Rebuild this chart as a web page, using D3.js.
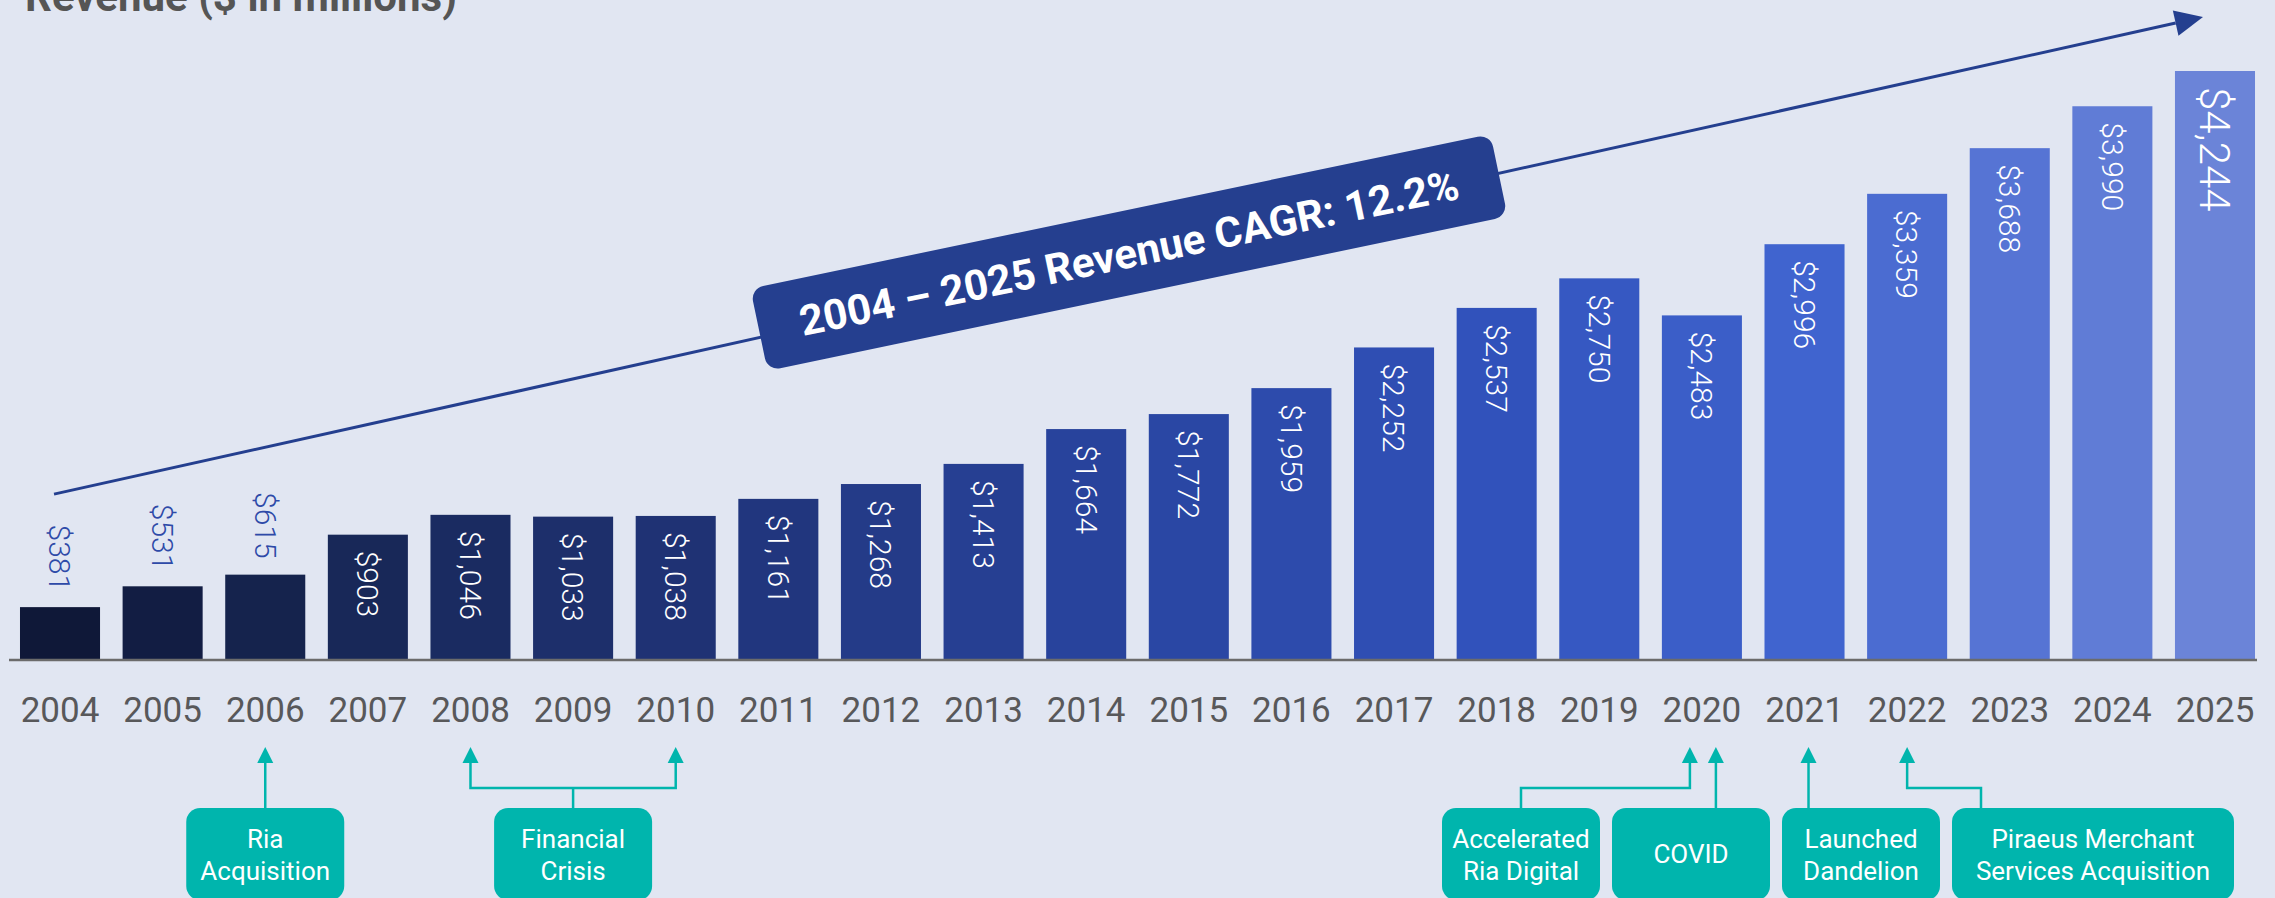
<!DOCTYPE html>
<html>
<head>
<meta charset="utf-8">
<script src="https://cdn.jsdelivr.net/npm/d3@7"></script>
<style>
  html, body { margin: 0; padding: 0; background: #e1e6f2; }
  svg { display: block; }
  text { font-family: Roboto, "Noto Sans", sans-serif; }
</style>
</head>
<body>
<svg id="chart" width="2275" height="898"></svg>
<script>
// ---- data -------------------------------------------------------------
const years = ["2004", "2005", "2006", "2007", "2008", "2009", "2010", "2011",
  "2012", "2013", "2014", "2015", "2016", "2017", "2018", "2019", "2020",
  "2021", "2022", "2023", "2024", "2025"];
const revenue = [381, 531, 615, 903, 1046, 1033, 1038, 1161, 1268, 1413, 1664,
  1772, 1959, 2252, 2537, 2750, 2483, 2996, 3359, 3688, 3990, 4244];
const titleText = "Revenue ($ in millions)";
const cagrText = "2004 – 2025 Revenue CAGR: 12.2%";
const eventLabels = [["Ria", "Acquisition"], ["Financial", "Crisis"],
  ["Accelerated", "Ria Digital"], ["COVID"], ["Launched", "Dandelion"],
  ["Piraeus Merchant", "Services Acquisition"]];
const eventYears = [["2006"], ["2008", "2010"], ["2020"], ["2020"], ["2021"], ["2022"]];

// ---- layout -----------------------------------------------------------
const W = 2275, H = 898;
const baseY = 660;
const svg = d3.select("#chart");

const x = d3.scaleBand().domain(years).range([8.7, 2266.3])
  .paddingInner(0.22).paddingOuter(0.11);
const y = d3.scaleLinear().domain([0, 4244]).range([baseY, 71]);
const bw = x.bandwidth();
const cx = d => x(d) + bw / 2;

// dark navy to periwinkle across the years
const barColor = d3.scaleLinear()
  .domain([0, 3, 6, 10, 14, 17, 21])
  .range(["#0f1838", "#182858", "#1f3274", "#28439c", "#3152bb", "#4064cf", "#6b84d8"]);

svg.append("rect").attr("width", W).attr("height", H).attr("fill", "#e1e6f2");

// title (sits partly above the top edge)
svg.append("text").attr("x", 25).attr("y", 11)
  .attr("font-size", 42).attr("font-weight", 700).attr("fill", "#555555")
  .text(titleText);

// bars
const rows = years.map((yr, i) => ({ yr, v: revenue[i], i }));
svg.append("g").selectAll("rect").data(rows).join("rect")
  .attr("x", d => x(d.yr)).attr("width", bw)
  .attr("y", d => y(d.v)).attr("height", d => baseY - y(d.v))
  .attr("fill", d => barColor(d.i));

// value labels, rotated to read downward
const fmt = v => "$" + d3.format(",")(v);
const insideMin = 800;
svg.append("g").selectAll("text").data(rows).join("text")
  .attr("transform", d => {
    const inside = d.v >= insideMin;
    const ty = inside ? y(d.v) + 16 : y(d.v) - 16;
    return `translate(${cx(d.yr)},${ty}) rotate(90)`;
  })
  .attr("text-anchor", d => d.v >= insideMin ? "start" : "end")
  .attr("dy", "0.355em")
  .attr("font-size", (d, i) => i === rows.length - 1 ? 42 : 30)
  .attr("font-weight", 300)
  .attr("fill", d => d.v >= insideMin ? "#ffffff" : "#2e4aa8")
  .text(d => fmt(d.v));

// x axis
const axis = svg.append("g").attr("transform", `translate(0,${baseY})`)
  .call(d3.axisBottom(x).tickSize(0).tickPadding(0));
axis.select(".domain").attr("stroke", "#6b6b6b").attr("stroke-width", 2.5)
  .attr("d", "M9,0H2257");
axis.selectAll(".tick text")
  .attr("y", 62).attr("dy", 0)
  .attr("font-family", "Roboto, sans-serif")
  .attr("font-size", 35).attr("fill", "#58585a");

// CAGR trend arrow
const t0 = [cx(years[0]) - 6, y(1195)];
const t1 = [cx(years[years.length - 1]) - 12, y(4633)];
const ang = Math.atan2(t1[1] - t0[1], t1[0] - t0[0]);
const headLen = 28, headHalf = 13;
const base = [t1[0] - headLen * Math.cos(ang), t1[1] - headLen * Math.sin(ang)];
const navy = "#243f8f";
svg.append("line")
  .attr("x1", t0[0]).attr("y1", t0[1]).attr("x2", base[0]).attr("y2", base[1])
  .attr("stroke", navy).attr("stroke-width", 3);
svg.append("polygon")
  .attr("points", [
    t1,
    [base[0] + headHalf * Math.sin(ang), base[1] - headHalf * Math.cos(ang)],
    [base[0] - headHalf * Math.sin(ang), base[1] + headHalf * Math.cos(ang)]
  ].map(p => p.join(",")).join(" "))
  .attr("fill", navy);

// CAGR badge riding on the trend line
const bx = 1129;
const by = t0[1] + (bx - t0[0]) * Math.tan(ang) - 3;
const badge = svg.append("g")
  .attr("transform", `translate(${bx},${by}) rotate(-11.8)`);
badge.append("rect")
  .attr("x", -378).attr("y", -42).attr("width", 756).attr("height", 84)
  .attr("rx", 13).attr("fill", "#253f8f");
badge.append("text")
  .attr("text-anchor", "middle").attr("dy", "0.36em")
  .attr("font-size", 42).attr("font-weight", 700).attr("fill", "#ffffff")
  .text(cagrText);

// ---- event call-outs --------------------------------------------------
const teal = "#00b5ad";
const tipY = 747, elbowY = 788, boxTop = 808, boxBottom = 900;
// per-event nudges so two arrows can share one year
const targetNudge = [[0], [0, 0], [-12], [14], [4], [0]];
const boxW = [158, 158, 158, 158, 158, 282];
// right-hand group is packed in a row ending at this edge
const rowRight = 2234, rowGap = 12;
const boxLeft = [];
boxLeft[0] = cx(eventYears[0][0]) - boxW[0] / 2;
boxLeft[1] = (cx(eventYears[1][0]) + cx(eventYears[1][1])) / 2 - boxW[1] / 2;
let edge = rowRight;
for (let i = 5; i >= 2; i--) { boxLeft[i] = edge - boxW[i]; edge = boxLeft[i] - rowGap; }

const events = eventLabels.map((lines, i) => {
  const targets = eventYears[i].map((yr, k) => cx(yr) + targetNudge[i][k]);
  let anchor;
  if (i === 2) anchor = boxLeft[i] + boxW[i] / 2;
  else if (i === 5) anchor = boxLeft[i] + 29;
  else anchor = d3.mean(targets);
  return { lines, targets, anchor, left: boxLeft[i], w: boxW[i] };
});

const ev = svg.append("g");
events.forEach(e => {
  const g = ev.append("g");
  let d;
  if (e.targets.length === 2) {
    d = `M${e.anchor},${boxTop}V${elbowY}` +
        `M${e.targets[0]},${tipY + 12}V${elbowY}H${e.targets[1]}V${tipY + 12}`;
  } else if (Math.abs(e.anchor - e.targets[0]) > 1) {
    d = `M${e.anchor},${boxTop}V${elbowY}H${e.targets[0]}V${tipY + 12}`;
  } else {
    d = `M${e.targets[0]},${boxTop}V${tipY + 12}`;
  }
  g.append("path").attr("d", d).attr("fill", "none")
    .attr("stroke", teal).attr("stroke-width", 2.5);
  e.targets.forEach(t => {
    g.append("polygon")
      .attr("points", `${t},${tipY} ${t - 8},${tipY + 16} ${t + 8},${tipY + 16}`)
      .attr("fill", teal);
  });
  g.append("rect").attr("x", e.left).attr("y", boxTop)
    .attr("width", e.w).attr("height", boxBottom - boxTop)
    .attr("rx", 14).attr("fill", teal);
  const midX = e.left + e.w / 2;
  const baselines = e.lines.length === 2 ? [848, 880] : [863];
  e.lines.forEach((ln, k) => {
    g.append("text").attr("x", midX).attr("y", baselines[k])
      .attr("text-anchor", "middle").attr("font-size", 26)
      .attr("font-weight", 400).attr("fill", "#ffffff").text(ln);
  });
});
</script>
</body>
</html>
